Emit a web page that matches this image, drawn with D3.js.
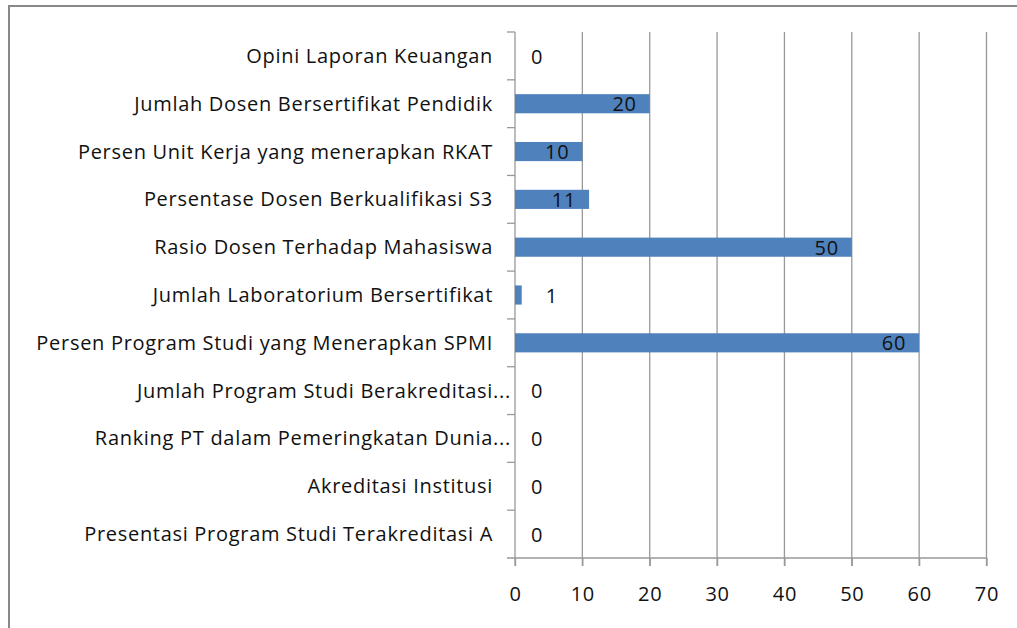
<!DOCTYPE html>
<html>
<head>
<meta charset="utf-8">
<script src="https://cdn.jsdelivr.net/npm/d3@7"></script>
<style>
  body { margin: 0; background: #fff; }
  text { font-family: "Open Sans", sans-serif; fill: #111; letter-spacing: 0.7px; }
</style>
</head>
<body>
<div class="container"></div>
<script>
const categories = [
  'Opini Laporan Keuangan',
  'Jumlah Dosen Bersertifikat Pendidik',
  'Persen Unit Kerja yang menerapkan RKAT',
  'Persentase Dosen Berkualifikasi S3',
  'Rasio Dosen Terhadap Mahasiswa',
  'Jumlah Laboratorium Bersertifikat',
  'Persen Program Studi yang Menerapkan SPMI',
  'Jumlah Program Studi Berakreditasi...',
  'Ranking PT dalam Pemeringkatan Dunia...',
  'Akreditasi Institusi',
  'Presentasi Program Studi Terakreditasi A'
];
const values = [0, 20, 10, 11, 50, 1, 60, 0, 0, 0, 0];
const xTicks = [0, 10, 20, 30, 40, 50, 60, 70];

const w = 1017,
    h = 628;
const pLeft = 515, pRight = 986.5, pTop = 32, pBottom = 558;

const svg = d3.select('.container')
  .append('svg')
  .attr('width', w)
  .attr('height', h);

// outer frame
svg.append('rect')
  .attr('x', 9).attr('y', 6)
  .attr('width', 1030).attr('height', 640)
  .attr('fill', 'none')
  .attr('stroke', '#888')
  .attr('stroke-width', 2);

const xScale = d3.scaleLinear()
  .domain([0, 70])
  .range([pLeft, pRight]);

const yScale = d3.scaleBand()
  .domain(categories)
  .range([pTop, pBottom])
  .paddingInner(0.6)
  .paddingOuter(0.3);

// gridlines
svg.selectAll('.grid')
  .data(xTicks.slice(1))
  .enter()
  .append('line')
  .attr('class', 'grid')
  .attr('x1', d => xScale(d)).attr('x2', d => xScale(d))
  .attr('y1', pTop).attr('y2', pBottom + 8)
  .attr('stroke', '#999')
  .attr('stroke-width', 1.3);

// bottom axis
const xAxis = d3.axisBottom(xScale)
  .tickValues(xTicks)
  .tickSize(8)
  .tickSizeOuter(0)
  .tickPadding(21);

const gx = svg.append('g')
  .attr('transform', `translate(0, ${pBottom})`)
  .call(xAxis);
gx.select('.domain').remove();
gx.append('line')
  .attr('x1', pLeft - 8).attr('x2', pRight)
  .attr('y1', 0).attr('y2', 0)
  .attr('stroke', '#999').attr('stroke-width', 1.3);
gx.selectAll('.tick line').attr('stroke', '#999').attr('stroke-width', 1.3);
gx.selectAll('.tick text')
  .style('font-family', '"Open Sans", sans-serif')
  .style('font-size', '20px')
  .attr('fill', '#111');

// left axis line and band ticks
svg.append('line')
  .attr('x1', pLeft).attr('x2', pLeft)
  .attr('y1', pTop).attr('y2', pBottom + 8)
  .attr('stroke', '#999').attr('stroke-width', 1.3);

const step = (pBottom - pTop) / categories.length;
svg.selectAll('.ytick')
  .data(d3.range(categories.length))
  .enter()
  .append('line')
  .attr('class', 'ytick')
  .attr('x1', pLeft - 8).attr('x2', pLeft)
  .attr('y1', i => pTop + i * step).attr('y2', i => pTop + i * step)
  .attr('stroke', '#999').attr('stroke-width', 1.3);

// category labels
const labels = svg.selectAll('.cat')
  .data(categories)
  .enter()
  .append('g')
  .attr('class', 'cat')
  .attr('transform', d => `translate(493, ${yScale(d) + yScale.bandwidth() / 2})`);

labels.append('text')
  .attr('text-anchor', 'end')
  .attr('dy', '0.35em')
  .style('font-size', '20px')
  .text(d => d.replace('...', ''));

labels.filter(d => d.endsWith('...'))
  .append('text')
  .attr('x', 0)
  .attr('dy', '0.35em')
  .style('font-size', '20px')
  .text('...');

// bars
svg.selectAll('.bar')
  .data(values)
  .enter()
  .append('rect')
  .attr('class', 'bar')
  .attr('x', xScale(0))
  .attr('y', (d, i) => yScale(categories[i]))
  .attr('width', d => xScale(d) - xScale(0))
  .attr('height', yScale.bandwidth())
  .attr('fill', '#4F81BD');

// value labels
svg.selectAll('.val')
  .data(values)
  .enter()
  .append('text')
  .attr('class', 'val')
  .attr('text-anchor', d => d >= 10 ? 'end' : 'middle')
  .attr('x', d => d >= 10 ? xScale(d) - 13 : xScale(d) + (d > 0 ? 30 : 22))
  .attr('y', (d, i) => yScale(categories[i]) + yScale.bandwidth() / 2)
  .attr('dy', '0.38em')
  .style('font-size', '20px')
  .text(d => d);
</script>
</body>
</html>
